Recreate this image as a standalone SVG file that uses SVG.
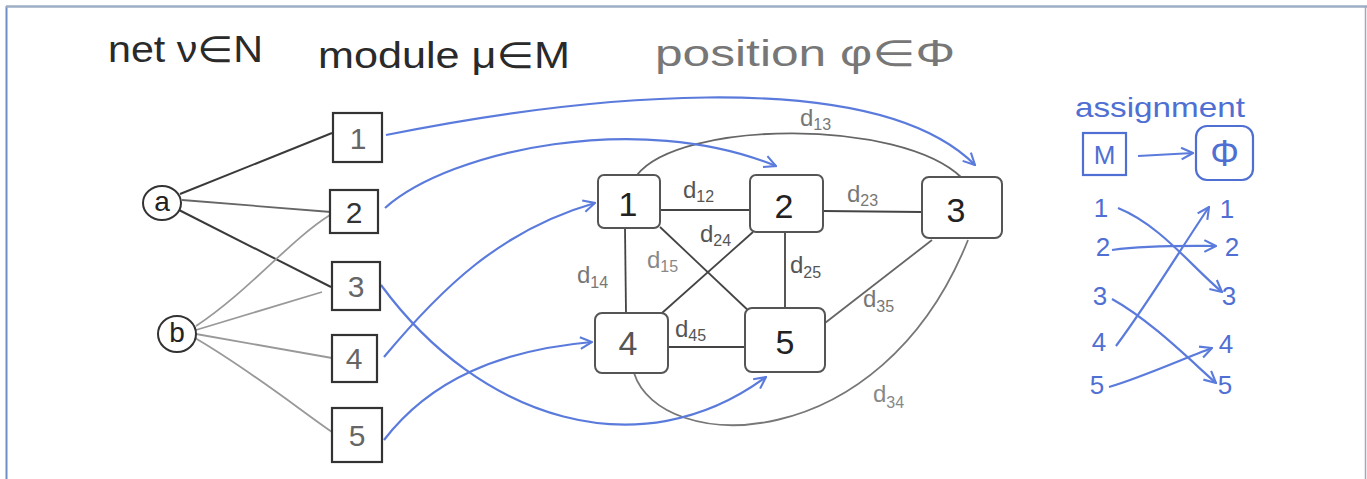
<svg xmlns="http://www.w3.org/2000/svg" width="1367" height="479" viewBox="0 0 1367 479">
<style>
.hand{font-family:"Liberation Sans","DejaVu Sans",sans-serif}
.hdr{font-size:36px;fill:#2a2a2a}
.mod{fill:#fff;stroke:#333;stroke-width:2.2}
.modt{font-size:30px;fill:#666;text-anchor:middle;dominant-baseline:central}
.pos{fill:#fff;stroke:#555;stroke-width:2}
.post{font-size:34px;fill:#222;text-anchor:middle;dominant-baseline:central}
.net{fill:#fff;stroke:#333;stroke-width:2}
.nett{font-size:28px;fill:#222;text-anchor:middle;dominant-baseline:central}
.ed{fill:none;stroke:#444;stroke-width:1.8}
.edl{fill:none;stroke:#999;stroke-width:1.8}
.eda{fill:none;stroke:#3a3a3a;stroke-width:2}
.blue{fill:none;stroke:#5b7bdc;stroke-width:2.2;marker-end:url(#ah)}
.lbl{font-size:24px;fill:#555}
.lbl tspan.s{font-size:16px}
.bt{fill:#4f6fd3}
</style>
<defs>
<marker id="ah" viewBox="0 0 12 12" refX="11" refY="6" markerWidth="14" markerHeight="14" markerUnits="userSpaceOnUse" orient="auto">
<path d="M1,1 L11,6 L1,11" fill="none" stroke="#5b7bdc" stroke-width="1.8"/>
</marker>
</defs>
<rect width="1367" height="479" fill="#fff"/>
<line x1="6.5" y1="6" x2="6.5" y2="479" stroke="#6d8fc6" stroke-width="2"/>
<line x1="6" y1="6.5" x2="1367" y2="6.5" stroke="#9daec6" stroke-width="2.5"/>
<line x1="1365.5" y1="6" x2="1365.5" y2="479" stroke="#a0a8bc" stroke-width="1.5"/>

<g id="headers" class="hand">
<text class="hdr" x="108" y="62" textLength="155" lengthAdjust="spacingAndGlyphs">net ν∈N</text>
<text class="hdr" x="318" y="68" textLength="252" lengthAdjust="spacingAndGlyphs">module μ∈M</text>
<text class="hdr" x="655" y="66" textLength="300" lengthAdjust="spacingAndGlyphs" style="fill:#777">position φ∈Φ</text>
<text x="1075" y="117" font-size="28" textLength="170" lengthAdjust="spacingAndGlyphs" class="bt">assignment</text>
</g>

<g id="connectors">
<!-- nets to modules -->
<path class="eda" d="M180,194 L332,133"/>
<path class="ed" d="M182,200 L331,212" style="stroke:#666"/>
<path class="eda" d="M179,210 L331,287"/>
<path class="edl" d="M196,326 C250,290 290,240 330,215"/>
<path class="edl" d="M196,330 L322,292"/>
<path class="edl" d="M196,334 L332,358"/>
<path class="edl" d="M195,338 C250,370 300,410 332,432"/>
<!-- position graph edges -->
<path class="ed" d="M660,210 L750,210"/>
<path class="ed" d="M823,211 L922,212"/>
<path class="ed" d="M625,228 L626,313"/>
<path class="ed" d="M668,347 L745,347"/>
<path class="ed" d="M785,232 L785,308"/>
<path class="ed" d="M660,227 L752,314"/>
<path class="ed" d="M753,232 L662,313"/>
<path class="edl" d="M932,240 L825,323" style="stroke:#666"/>
<path class="edl" d="M637,175 C680,120 900,118 962,178" style="stroke:#666"/>
<path class="edl" d="M634,373 C660,455 880,460 968,240" style="stroke:#777"/>
<!-- assignment arrows modules to positions -->
<path class="blue" d="M386,135 C560,100 870,60 975,165"/>
<path class="blue" d="M385,208 C450,150 640,110 776,166"/>
<path class="blue" d="M381,285 C480,420 640,470 766,377"/>
<path class="blue" d="M384,357 C440,290 500,230 595,203"/>
<path class="blue" d="M384,440 C430,380 500,350 592,342"/>
</g>

<g id="edge-labels" class="hand">
<text class="lbl" x="683" y="198">d<tspan class="s" dy="4">12</tspan></text>
<text class="lbl" x="847" y="202" style="fill:#777">d<tspan class="s" dy="4">23</tspan></text>
<text class="lbl" x="800" y="126" style="fill:#777">d<tspan class="s" dy="4">13</tspan></text>
<text class="lbl" x="700" y="242">d<tspan class="s" dy="4">24</tspan></text>
<text class="lbl" x="647" y="268" style="fill:#888">d<tspan class="s" dy="4">15</tspan></text>
<text class="lbl" x="577" y="283" style="fill:#777">d<tspan class="s" dy="5">14</tspan></text>
<text class="lbl" x="790" y="273">d<tspan class="s" dy="5">25</tspan></text>
<text class="lbl" x="863" y="307" style="fill:#777">d<tspan class="s" dy="5">35</tspan></text>
<text class="lbl" x="675" y="337">d<tspan class="s" dy="4">45</tspan></text>
<text class="lbl" x="873" y="402" style="fill:#888">d<tspan class="s" dy="6">34</tspan></text>
</g>

<g id="net-a" class="hand"><ellipse class="net" cx="162" cy="203" rx="19" ry="17"/><text class="nett" x="162" y="201">a</text></g>
<g id="net-b" class="hand"><ellipse class="net" cx="177" cy="334" rx="19" ry="18"/><text class="nett" x="177" y="332">b</text></g>

<g id="module-1" class="hand"><rect class="mod" x="333" y="113" width="49" height="49"/><text class="modt" x="358" y="138">1</text></g>
<g id="module-2" class="hand"><rect class="mod" x="330" y="190" width="48" height="43"/><text class="modt" x="354" y="212" style="fill:#333">2</text></g>
<g id="module-3" class="hand"><rect class="mod" x="332" y="262" width="48" height="48"/><text class="modt" x="356" y="286">3</text></g>
<g id="module-4" class="hand"><rect class="mod" x="332" y="335" width="45" height="47"/><text class="modt" x="354" y="358">4</text></g>
<g id="module-5" class="hand"><rect class="mod" x="332" y="408" width="50" height="54"/><text class="modt" x="357" y="435">5</text></g>

<g id="position-1" class="hand"><rect class="pos" x="598" y="175" width="62" height="53" rx="6"/><text class="post" x="628" y="204">1</text></g>
<g id="position-2" class="hand"><rect class="pos" x="750" y="175" width="73" height="57" rx="6"/><text class="post" x="784" y="206">2</text></g>
<g id="position-3" class="hand"><rect class="pos" x="922" y="177" width="80" height="61" rx="7"/><text class="post" x="956" y="210">3</text></g>
<g id="position-4" class="hand"><rect class="pos" x="595" y="313" width="73" height="60" rx="7"/><text class="post" x="628" y="343" style="fill:#555">4</text></g>
<g id="position-5" class="hand"><rect class="pos" x="745" y="308" width="80" height="64" rx="7"/><text class="post" x="785" y="342">5</text></g>

<g id="assignment-legend" class="hand">
<rect x="1083" y="133" width="43" height="42" fill="none" stroke="#4f6fd3" stroke-width="2.2"/>
<text x="1104.5" y="155" font-size="26" text-anchor="middle" dominant-baseline="central" class="bt">M</text>
<path class="blue" d="M1138,156 L1193,153"/>
<rect x="1196" y="126" width="57" height="54" rx="11" fill="none" stroke="#4f6fd3" stroke-width="2.2"/>
<text x="1224.5" y="153" font-size="36" text-anchor="middle" dominant-baseline="central" class="bt">Φ</text>
</g>

<g id="assignment-map" class="hand">
<g font-size="26" class="bt" text-anchor="middle" dominant-baseline="central">
<text x="1101" y="208">1</text>
<text x="1103" y="247">2</text>
<text x="1100" y="296">3</text>
<text x="1099" y="342">4</text>
<text x="1097" y="385">5</text>
<text x="1227" y="209">1</text>
<text x="1232" y="247">2</text>
<text x="1229" y="296">3</text>
<text x="1226" y="344">4</text>
<text x="1225" y="385">5</text>
</g>
<path class="blue" d="M1118,208 C1160,225 1190,265 1222,292"/>
<path class="blue" d="M1112,250 C1150,245 1185,246 1216,246"/>
<path class="blue" d="M1112,299 C1150,320 1190,360 1216,383"/>
<path class="blue" d="M1116,346 C1150,300 1180,250 1209,207"/>
<path class="blue" d="M1109,387 C1140,378 1180,360 1212,348"/>
</g>
</svg>
